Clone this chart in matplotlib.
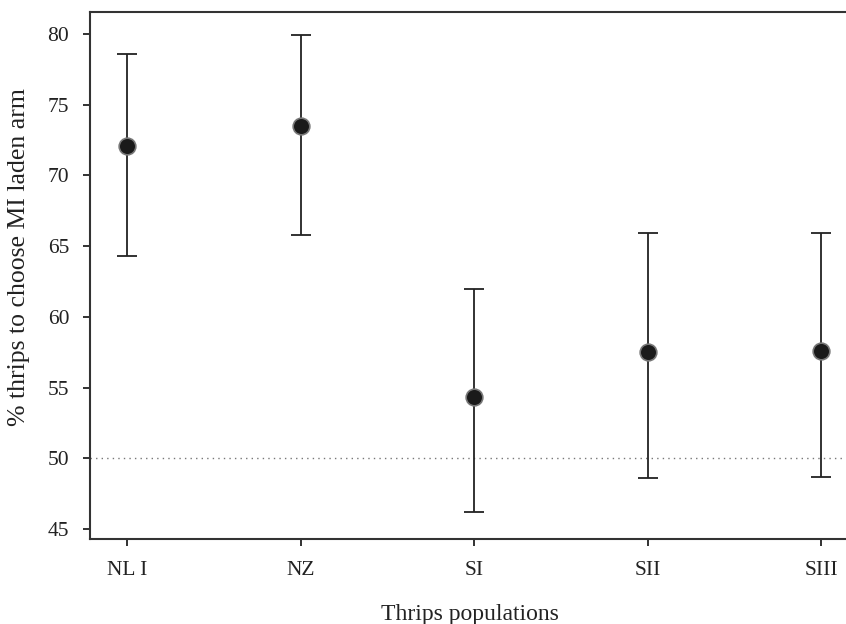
import matplotlib
matplotlib.use("Agg")
import matplotlib.pyplot as plt

# datos
poblaciones = ["NL I", "NZ", "SI", "SII", "SIII"]
medias = [72.1, 73.5, 54.3, 57.5, 57.6]
superior = [78.6, 79.9, 62.0, 65.9, 65.9]
inferior = [64.3, 65.8, 46.2, 48.6, 48.7]
referencia = 50

plt.rcParams['font.family'] = ['Liberation Serif', 'DejaVu Serif']

fig = plt.figure(figsize=(8.46, 6.24), dpi=100)
ax = fig.add_axes([90/846, 1 - 539/624, 760/846, (539-12)/624])

x = list(range(1, len(poblaciones) + 1))
err_lo = [m - l for m, l in zip(medias, inferior)]
err_hi = [u - m for m, u in zip(medias, superior)]

ax.axhline(referencia, color='#777777', linestyle=(0, (1, 3)), linewidth=1)
ax.errorbar(x, medias, yerr=[err_lo, err_hi], fmt='none', ecolor='#222222',
            elinewidth=1.3, capsize=7, capthick=1.3, zorder=2)
ax.plot(x, medias, 'o', markersize=12, color='#1a1a1a',
        markeredgecolor='#777777', markeredgewidth=1.2, zorder=3)

ax.set_xlim(0.787, 5.165)
ax.set_ylim(44.29, 81.56)
ax.set_xticks(x)
ax.set_xticklabels(poblaciones)
ax.set_yticks([45, 50, 55, 60, 65, 70, 75, 80])
ax.tick_params(direction='out', length=5, width=1.3, labelsize=15.5, colors='#222222')
ax.tick_params(axis='x', pad=11)
ax.tick_params(axis='y', pad=10)
for s in ax.spines.values():
    s.set_linewidth(1.5)
    s.set_color('#333333')

ax.set_xlabel('Thrips populations', fontsize=17, labelpad=17, color='#222222')
ax.set_ylabel('% thrips to choose MI laden arm', fontsize=18.5, color='#222222')
ax.yaxis.set_label_coords(-0.079, 0.535)

fig.savefig('out.png', dpi=100)
